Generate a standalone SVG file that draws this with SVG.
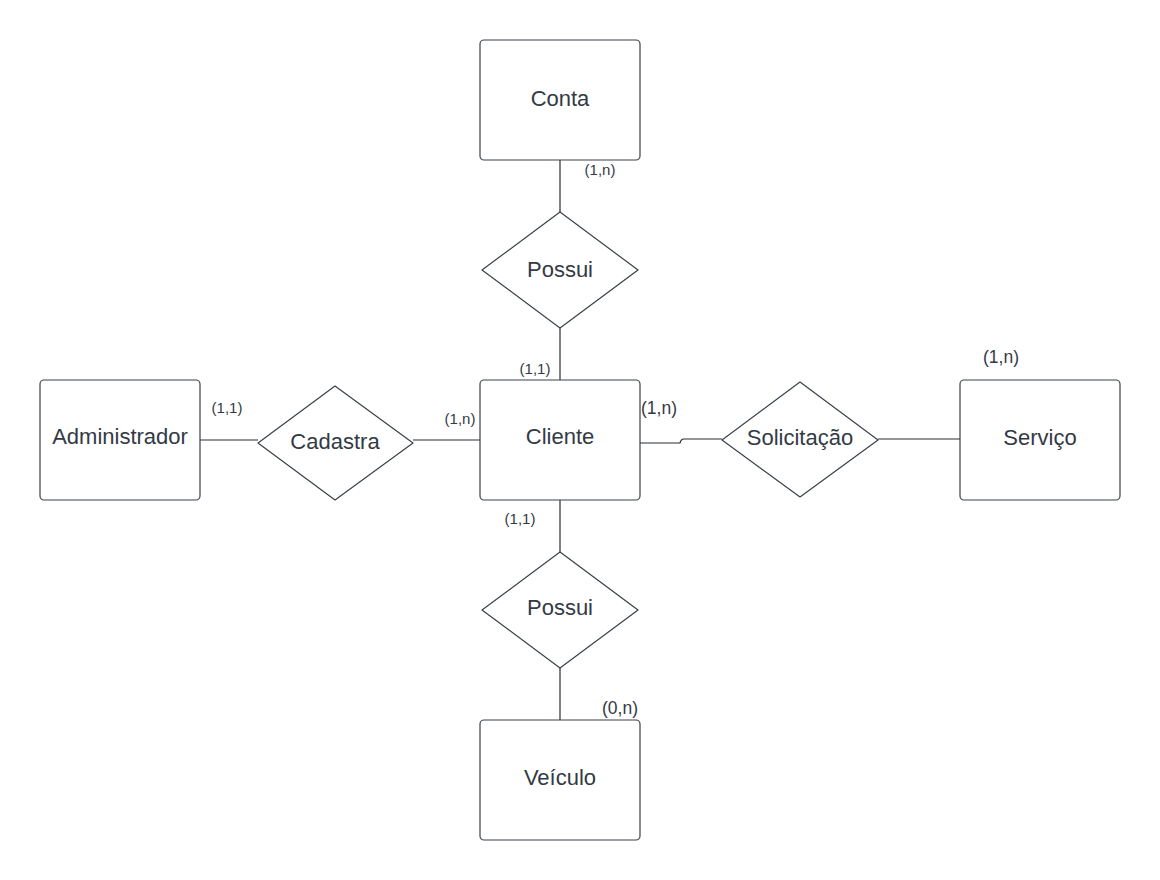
<svg xmlns="http://www.w3.org/2000/svg" width="1160" height="880" viewBox="0 0 1160 880">
<style>
.ent{fill:#ffffff;stroke:#3a414a;stroke-width:1.2}
.rel{fill:#ffffff;stroke:#3a414a;stroke-width:1.2;stroke-linejoin:round}
.lbl{font-family:"Liberation Sans",Arial,sans-serif;font-size:22px;fill:#333a44;text-anchor:middle;dominant-baseline:central}
.card{font-family:"Liberation Sans",Arial,sans-serif;font-size:15px;fill:#333a44;text-anchor:middle;dominant-baseline:central}
.card2{font-family:"Liberation Sans",Arial,sans-serif;font-size:17.5px;fill:#333a44;text-anchor:middle;dominant-baseline:central}
.con{fill:none;stroke:#282c33;stroke-width:1.2}
</style>
<rect width="1160" height="880" fill="#ffffff"/>
<g id="connectors">
<line class="con" x1="560" y1="160" x2="560" y2="212"/>
<line class="con" x1="560" y1="328" x2="560" y2="380"/>
<line class="con" x1="200" y1="440" x2="258" y2="440"/>
<line class="con" x1="413" y1="440" x2="480" y2="440"/>
<path class="con" d="M640 443 H680 Q681 439 684 439 H722"/>
<line class="con" x1="878" y1="439" x2="960" y2="439"/>
<line class="con" x1="560" y1="500" x2="560" y2="552"/>
<line class="con" x1="560" y1="668" x2="560" y2="720"/>
</g>
<g id="conta"><rect class="ent" x="480" y="40" width="160" height="120" rx="4"/><text class="lbl" x="560" y="98">Conta</text></g>
<g id="possui1"><path class="rel" d="M560 212 L638 270 L560 328 L482 270 Z"/><text class="lbl" x="560" y="269">Possui</text></g>
<g id="cliente"><rect class="ent" x="480" y="380" width="160" height="120" rx="4"/><text class="lbl" x="560" y="436">Cliente</text></g>
<g id="administrador"><rect class="ent" x="40" y="380" width="160" height="120" rx="4"/><text class="lbl" x="120" y="436">Administrador</text></g>
<g id="cadastra"><path class="rel" d="M335 386 L413 443 L335 500 L258 443 Z"/><text class="lbl" x="335" y="441">Cadastra</text></g>
<g id="solicitacao"><path class="rel" d="M800 382 L878 440 L800 497 L722 440 Z"/><text class="lbl" x="800" y="437">Solicitação</text></g>
<g id="servico"><rect class="ent" x="960" y="380" width="160" height="120" rx="4"/><text class="lbl" x="1040" y="437">Serviço</text></g>
<g id="possui2"><path class="rel" d="M560 552 L638 610 L560 668 L482 610 Z"/><text class="lbl" x="560" y="607">Possui</text></g>
<g id="veiculo"><rect class="ent" x="480" y="720" width="160" height="120" rx="4"/><text class="lbl" x="560" y="777">Veículo</text></g>
<g id="cardinalities">
<text class="card" x="600" y="169">(1,n)</text>
<text class="card" x="535" y="368">(1,1)</text>
<text class="card" x="227" y="407">(1,1)</text>
<text class="card" x="460" y="418">(1,n)</text>
<text class="card2" x="659" y="408">(1,n)</text>
<text class="card2" x="1001" y="357">(1,n)</text>
<text class="card" x="520" y="518">(1,1)</text>
<text class="card2" x="620" y="708">(0,n)</text>
</g>
</svg>
